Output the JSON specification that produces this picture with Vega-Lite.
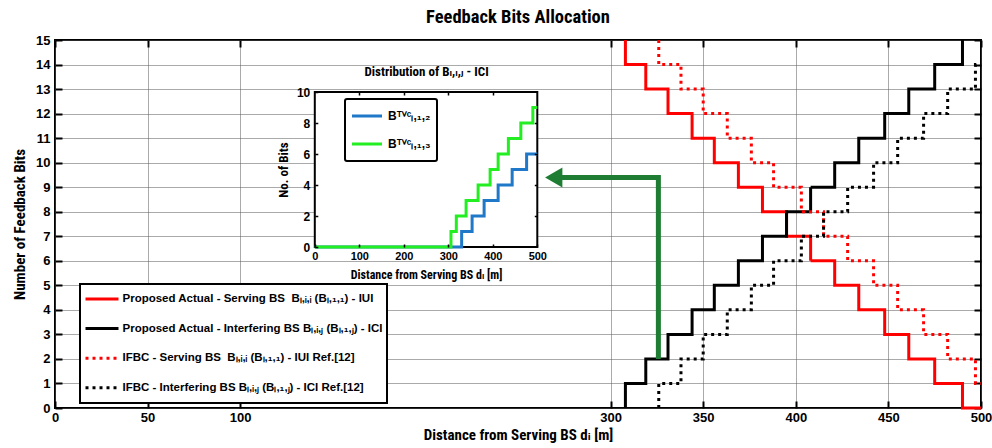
{
  "$schema": "https://vega.github.io/schema/vega-lite/v6.json",
  "width": 926,
  "height": 368,
  "autosize": {"type": "none"},
  "padding": {"left": 55, "top": 40, "right": 11, "bottom": 40},
  "background": "white",
  "title": {
    "text": "Feedback Bits Allocation",
    "font": "Noto Sans Condensed, Roboto Condensed, Liberation Sans Narrow, DejaVu Sans Condensed, Arial Narrow, Noto Sans",
    "fontSize": 18.5,
    "fontWeight": "bold",
    "color": "black",
    "anchor": "middle",
    "baseline": "alphabetic",
    "offset": -7
  },
  "config": {
    "view": {"stroke": "black", "strokeWidth": 2},
    "axis": {
      "domain": false,
      "labelFont": "Liberation Sans",
      "labelFontWeight": "bold",
      "labelColor": "black",
      "labelFlush": false,
      "labelOverlap": false,
      "tickColor": "black",
      "titleColor": "black",
      "titleFont": "Noto Sans Condensed, Roboto Condensed, Liberation Sans Narrow, DejaVu Sans Condensed, Arial Narrow, Noto Sans",
      "titleFontWeight": "bold"
    }
  },
  "datasets": {
    "feedback": [
      {"series": "Proposed Actual - Serving BS \u00a0Bₗ,ᵢ,ᵢ (Bₗ,₁,₁) - IUI", "point": 0, "distance": 308, "bits": 15},
      {"series": "Proposed Actual - Serving BS \u00a0Bₗ,ᵢ,ᵢ (Bₗ,₁,₁) - IUI", "point": 1, "distance": 308, "bits": 14},
      {"series": "Proposed Actual - Serving BS \u00a0Bₗ,ᵢ,ᵢ (Bₗ,₁,₁) - IUI", "point": 2, "distance": 319, "bits": 13},
      {"series": "Proposed Actual - Serving BS \u00a0Bₗ,ᵢ,ᵢ (Bₗ,₁,₁) - IUI", "point": 3, "distance": 331, "bits": 12},
      {"series": "Proposed Actual - Serving BS \u00a0Bₗ,ᵢ,ᵢ (Bₗ,₁,₁) - IUI", "point": 4, "distance": 344, "bits": 11},
      {"series": "Proposed Actual - Serving BS \u00a0Bₗ,ᵢ,ᵢ (Bₗ,₁,₁) - IUI", "point": 5, "distance": 356, "bits": 10},
      {"series": "Proposed Actual - Serving BS \u00a0Bₗ,ᵢ,ᵢ (Bₗ,₁,₁) - IUI", "point": 6, "distance": 369, "bits": 9},
      {"series": "Proposed Actual - Serving BS \u00a0Bₗ,ᵢ,ᵢ (Bₗ,₁,₁) - IUI", "point": 7, "distance": 382, "bits": 8},
      {"series": "Proposed Actual - Serving BS \u00a0Bₗ,ᵢ,ᵢ (Bₗ,₁,₁) - IUI", "point": 8, "distance": 395, "bits": 7},
      {"series": "Proposed Actual - Serving BS \u00a0Bₗ,ᵢ,ᵢ (Bₗ,₁,₁) - IUI", "point": 9, "distance": 408, "bits": 6},
      {"series": "Proposed Actual - Serving BS \u00a0Bₗ,ᵢ,ᵢ (Bₗ,₁,₁) - IUI", "point": 10, "distance": 421, "bits": 5},
      {"series": "Proposed Actual - Serving BS \u00a0Bₗ,ᵢ,ᵢ (Bₗ,₁,₁) - IUI", "point": 11, "distance": 434, "bits": 4},
      {"series": "Proposed Actual - Serving BS \u00a0Bₗ,ᵢ,ᵢ (Bₗ,₁,₁) - IUI", "point": 12, "distance": 448, "bits": 3},
      {"series": "Proposed Actual - Serving BS \u00a0Bₗ,ᵢ,ᵢ (Bₗ,₁,₁) - IUI", "point": 13, "distance": 461, "bits": 2},
      {"series": "Proposed Actual - Serving BS \u00a0Bₗ,ᵢ,ᵢ (Bₗ,₁,₁) - IUI", "point": 14, "distance": 475, "bits": 1},
      {"series": "Proposed Actual - Serving BS \u00a0Bₗ,ᵢ,ᵢ (Bₗ,₁,₁) - IUI", "point": 15, "distance": 490, "bits": 0},
      {"series": "Proposed Actual - Serving BS \u00a0Bₗ,ᵢ,ᵢ (Bₗ,₁,₁) - IUI", "point": 16, "distance": 500, "bits": 0},

      {"series": "Proposed Actual - Interfering BS Bₗ,ᵢ,ⱼ (Bₗ,₁,ⱼ) - ICI", "point": 0, "distance": 308, "bits": 0},
      {"series": "Proposed Actual - Interfering BS Bₗ,ᵢ,ⱼ (Bₗ,₁,ⱼ) - ICI", "point": 1, "distance": 308, "bits": 1},
      {"series": "Proposed Actual - Interfering BS Bₗ,ᵢ,ⱼ (Bₗ,₁,ⱼ) - ICI", "point": 2, "distance": 319, "bits": 2},
      {"series": "Proposed Actual - Interfering BS Bₗ,ᵢ,ⱼ (Bₗ,₁,ⱼ) - ICI", "point": 3, "distance": 331, "bits": 3},
      {"series": "Proposed Actual - Interfering BS Bₗ,ᵢ,ⱼ (Bₗ,₁,ⱼ) - ICI", "point": 4, "distance": 344, "bits": 4},
      {"series": "Proposed Actual - Interfering BS Bₗ,ᵢ,ⱼ (Bₗ,₁,ⱼ) - ICI", "point": 5, "distance": 356, "bits": 5},
      {"series": "Proposed Actual - Interfering BS Bₗ,ᵢ,ⱼ (Bₗ,₁,ⱼ) - ICI", "point": 6, "distance": 369, "bits": 6},
      {"series": "Proposed Actual - Interfering BS Bₗ,ᵢ,ⱼ (Bₗ,₁,ⱼ) - ICI", "point": 7, "distance": 382, "bits": 7},
      {"series": "Proposed Actual - Interfering BS Bₗ,ᵢ,ⱼ (Bₗ,₁,ⱼ) - ICI", "point": 8, "distance": 395, "bits": 8},
      {"series": "Proposed Actual - Interfering BS Bₗ,ᵢ,ⱼ (Bₗ,₁,ⱼ) - ICI", "point": 9, "distance": 408, "bits": 9},
      {"series": "Proposed Actual - Interfering BS Bₗ,ᵢ,ⱼ (Bₗ,₁,ⱼ) - ICI", "point": 10, "distance": 421, "bits": 10},
      {"series": "Proposed Actual - Interfering BS Bₗ,ᵢ,ⱼ (Bₗ,₁,ⱼ) - ICI", "point": 11, "distance": 434, "bits": 11},
      {"series": "Proposed Actual - Interfering BS Bₗ,ᵢ,ⱼ (Bₗ,₁,ⱼ) - ICI", "point": 12, "distance": 448, "bits": 12},
      {"series": "Proposed Actual - Interfering BS Bₗ,ᵢ,ⱼ (Bₗ,₁,ⱼ) - ICI", "point": 13, "distance": 461, "bits": 13},
      {"series": "Proposed Actual - Interfering BS Bₗ,ᵢ,ⱼ (Bₗ,₁,ⱼ) - ICI", "point": 14, "distance": 475, "bits": 14},
      {"series": "Proposed Actual - Interfering BS Bₗ,ᵢ,ⱼ (Bₗ,₁,ⱼ) - ICI", "point": 15, "distance": 490, "bits": 15},

      {"series": "IFBC - Serving BS \u00a0Bₗ,ᵢ,ᵢ (Bₗ,₁,₁) - IUI Ref.[12]", "point": 0, "distance": 326, "bits": 15},
      {"series": "IFBC - Serving BS \u00a0Bₗ,ᵢ,ᵢ (Bₗ,₁,₁) - IUI Ref.[12]", "point": 1, "distance": 326, "bits": 14},
      {"series": "IFBC - Serving BS \u00a0Bₗ,ᵢ,ᵢ (Bₗ,₁,₁) - IUI Ref.[12]", "point": 2, "distance": 338, "bits": 13},
      {"series": "IFBC - Serving BS \u00a0Bₗ,ᵢ,ᵢ (Bₗ,₁,₁) - IUI Ref.[12]", "point": 3, "distance": 350, "bits": 12},
      {"series": "IFBC - Serving BS \u00a0Bₗ,ᵢ,ᵢ (Bₗ,₁,₁) - IUI Ref.[12]", "point": 4, "distance": 363, "bits": 11},
      {"series": "IFBC - Serving BS \u00a0Bₗ,ᵢ,ᵢ (Bₗ,₁,₁) - IUI Ref.[12]", "point": 5, "distance": 376, "bits": 10},
      {"series": "IFBC - Serving BS \u00a0Bₗ,ᵢ,ᵢ (Bₗ,₁,₁) - IUI Ref.[12]", "point": 6, "distance": 388, "bits": 9},
      {"series": "IFBC - Serving BS \u00a0Bₗ,ᵢ,ᵢ (Bₗ,₁,₁) - IUI Ref.[12]", "point": 7, "distance": 403, "bits": 8},
      {"series": "IFBC - Serving BS \u00a0Bₗ,ᵢ,ᵢ (Bₗ,₁,₁) - IUI Ref.[12]", "point": 8, "distance": 415, "bits": 7},
      {"series": "IFBC - Serving BS \u00a0Bₗ,ᵢ,ᵢ (Bₗ,₁,₁) - IUI Ref.[12]", "point": 9, "distance": 428, "bits": 6},
      {"series": "IFBC - Serving BS \u00a0Bₗ,ᵢ,ᵢ (Bₗ,₁,₁) - IUI Ref.[12]", "point": 10, "distance": 442, "bits": 5},
      {"series": "IFBC - Serving BS \u00a0Bₗ,ᵢ,ᵢ (Bₗ,₁,₁) - IUI Ref.[12]", "point": 11, "distance": 455, "bits": 4},
      {"series": "IFBC - Serving BS \u00a0Bₗ,ᵢ,ᵢ (Bₗ,₁,₁) - IUI Ref.[12]", "point": 12, "distance": 469, "bits": 3},
      {"series": "IFBC - Serving BS \u00a0Bₗ,ᵢ,ᵢ (Bₗ,₁,₁) - IUI Ref.[12]", "point": 13, "distance": 482, "bits": 2},
      {"series": "IFBC - Serving BS \u00a0Bₗ,ᵢ,ᵢ (Bₗ,₁,₁) - IUI Ref.[12]", "point": 14, "distance": 497, "bits": 1},
      {"series": "IFBC - Serving BS \u00a0Bₗ,ᵢ,ᵢ (Bₗ,₁,₁) - IUI Ref.[12]", "point": 15, "distance": 500, "bits": 1},

      {"series": "IFBC - Interfering BS Bₗ,ᵢ,ⱼ (Bₗ,₁,ⱼ) - ICI Ref.[12]", "point": 0, "distance": 326, "bits": 0},
      {"series": "IFBC - Interfering BS Bₗ,ᵢ,ⱼ (Bₗ,₁,ⱼ) - ICI Ref.[12]", "point": 1, "distance": 326, "bits": 1},
      {"series": "IFBC - Interfering BS Bₗ,ᵢ,ⱼ (Bₗ,₁,ⱼ) - ICI Ref.[12]", "point": 2, "distance": 338, "bits": 2},
      {"series": "IFBC - Interfering BS Bₗ,ᵢ,ⱼ (Bₗ,₁,ⱼ) - ICI Ref.[12]", "point": 3, "distance": 350, "bits": 3},
      {"series": "IFBC - Interfering BS Bₗ,ᵢ,ⱼ (Bₗ,₁,ⱼ) - ICI Ref.[12]", "point": 4, "distance": 363, "bits": 4},
      {"series": "IFBC - Interfering BS Bₗ,ᵢ,ⱼ (Bₗ,₁,ⱼ) - ICI Ref.[12]", "point": 5, "distance": 376, "bits": 5},
      {"series": "IFBC - Interfering BS Bₗ,ᵢ,ⱼ (Bₗ,₁,ⱼ) - ICI Ref.[12]", "point": 6, "distance": 388, "bits": 6},
      {"series": "IFBC - Interfering BS Bₗ,ᵢ,ⱼ (Bₗ,₁,ⱼ) - ICI Ref.[12]", "point": 7, "distance": 403, "bits": 7},
      {"series": "IFBC - Interfering BS Bₗ,ᵢ,ⱼ (Bₗ,₁,ⱼ) - ICI Ref.[12]", "point": 8, "distance": 415, "bits": 8},
      {"series": "IFBC - Interfering BS Bₗ,ᵢ,ⱼ (Bₗ,₁,ⱼ) - ICI Ref.[12]", "point": 9, "distance": 428, "bits": 9},
      {"series": "IFBC - Interfering BS Bₗ,ᵢ,ⱼ (Bₗ,₁,ⱼ) - ICI Ref.[12]", "point": 10, "distance": 442, "bits": 10},
      {"series": "IFBC - Interfering BS Bₗ,ᵢ,ⱼ (Bₗ,₁,ⱼ) - ICI Ref.[12]", "point": 11, "distance": 455, "bits": 11},
      {"series": "IFBC - Interfering BS Bₗ,ᵢ,ⱼ (Bₗ,₁,ⱼ) - ICI Ref.[12]", "point": 12, "distance": 469, "bits": 12},
      {"series": "IFBC - Interfering BS Bₗ,ᵢ,ⱼ (Bₗ,₁,ⱼ) - ICI Ref.[12]", "point": 13, "distance": 482, "bits": 13},
      {"series": "IFBC - Interfering BS Bₗ,ᵢ,ⱼ (Bₗ,₁,ⱼ) - ICI Ref.[12]", "point": 14, "distance": 497, "bits": 14},
      {"series": "IFBC - Interfering BS Bₗ,ᵢ,ⱼ (Bₗ,₁,ⱼ) - ICI Ref.[12]", "point": 15, "distance": 500, "bits": 14}
    ],
    "arrow": [
      {"point": 0, "distance": 325.8, "bits": 2.0},
      {"point": 1, "distance": 325.8, "bits": 9.4},
      {"point": 2, "distance": 269.3, "bits": 9.4}
    ],
    "arrowhead": [
      {"distance": 269.3, "bits": 9.4}
    ],
    "tvc": [
      {"curve": "Bᵀⱽᶜₗ,₁,₂", "distance": 0, "bits": 0},
      {"curve": "Bᵀⱽᶜₗ,₁,₂", "distance": 330, "bits": 1},
      {"curve": "Bᵀⱽᶜₗ,₁,₂", "distance": 353.5, "bits": 2},
      {"curve": "Bᵀⱽᶜₗ,₁,₂", "distance": 380.5, "bits": 3},
      {"curve": "Bᵀⱽᶜₗ,₁,₂", "distance": 412, "bits": 4},
      {"curve": "Bᵀⱽᶜₗ,₁,₂", "distance": 443.5, "bits": 5},
      {"curve": "Bᵀⱽᶜₗ,₁,₂", "distance": 476, "bits": 6},
      {"curve": "Bᵀⱽᶜₗ,₁,₂", "distance": 500, "bits": 6},
      {"curve": "Bᵀⱽᶜₗ,₁,₃", "distance": 0, "bits": 0},
      {"curve": "Bᵀⱽᶜₗ,₁,₃", "distance": 306, "bits": 1},
      {"curve": "Bᵀⱽᶜₗ,₁,₃", "distance": 318, "bits": 2},
      {"curve": "Bᵀⱽᶜₗ,₁,₃", "distance": 340, "bits": 3},
      {"curve": "Bᵀⱽᶜₗ,₁,₃", "distance": 367, "bits": 4},
      {"curve": "Bᵀⱽᶜₗ,₁,₃", "distance": 394, "bits": 5},
      {"curve": "Bᵀⱽᶜₗ,₁,₃", "distance": 412, "bits": 6},
      {"curve": "Bᵀⱽᶜₗ,₁,₃", "distance": 435, "bits": 7},
      {"curve": "Bᵀⱽᶜₗ,₁,₃", "distance": 463, "bits": 8},
      {"curve": "Bᵀⱽᶜₗ,₁,₃", "distance": 490, "bits": 9},
      {"curve": "Bᵀⱽᶜₗ,₁,₃", "distance": 500, "bits": 9}
    ]
  },
  "layer": [
    {
      "layer": [
        {
          "data": {"name": "feedback"},
          "mark": {"type": "line", "interpolate": "step-after", "strokeWidth": 3, "strokeCap": "butt"},
          "encoding": {
            "x": {
              "field": "distance",
              "type": "quantitative",
              "scale": {"domain": [0, 500], "nice": false, "zero": false},
              "axis": {
                "orient": "bottom",
                "values": [0, 50, 100, 300, 350, 400, 450, 500],
                "grid": true,
                "gridColor": "#555555",
                "gridDash": [1, 1],
                "gridWidth": 1,
                "tickSize": -7,
                "tickWidth": 2,
                "labelPadding": 10,
                "labelFontSize": 13,
                "title": "Distance from Serving BS dᵢ [m]",
                "titleFontSize": 15,
                "titlePadding": 3
              }
            },
            "y": {
              "field": "bits",
              "type": "quantitative",
              "scale": {"domain": [0, 15], "nice": false, "zero": false},
              "axis": {
                "orient": "left",
                "values": [0, 1, 2, 3, 4, 5, 6, 7, 8, 9, 10, 11, 12, 13, 14, 15],
                "grid": true,
                "gridColor": "#555555",
                "gridDash": [1, 1],
                "gridWidth": 1,
                "tickSize": -7,
                "tickWidth": 2,
                "labelPadding": 12,
                "labelFontSize": 13,
                "title": "Number of Feedback Bits",
                "titleFontSize": 15,
                "titlePadding": 8
              }
            },
            "color": {
              "field": "series",
              "type": "nominal",
              "scale": {
                "domain": [
                  "Proposed Actual - Serving BS \u00a0Bₗ,ᵢ,ᵢ (Bₗ,₁,₁) - IUI",
                  "Proposed Actual - Interfering BS Bₗ,ᵢ,ⱼ (Bₗ,₁,ⱼ) - ICI",
                  "IFBC - Serving BS \u00a0Bₗ,ᵢ,ᵢ (Bₗ,₁,₁) - IUI Ref.[12]",
                  "IFBC - Interfering BS Bₗ,ᵢ,ⱼ (Bₗ,₁,ⱼ) - ICI Ref.[12]"
                ],
                "range": ["#ff0000", "#000000", "#ff0000", "#000000"]
              },
              "legend": {
                "orient": "none",
                "legendX": 25,
                "legendY": 244,
                "title": null,
                "symbolType": "stroke",
                "symbolSize": 1089,
                "symbolStrokeWidth": 3,
                "clipHeight": 22,
                "rowPadding": 7.6,
                "padding": 4,
                "labelOffset": 2.5,
                "labelFont": "Liberation Sans",
                "labelFontWeight": "bold",
                "labelFontSize": 11.5,
                "labelColor": "black",
                "labelLimit": 600,
                "fillColor": "white",
                "strokeColor": "black",
                "encode": {"legend": {"update": {"strokeWidth": {"value": 2}}}}
              }
            },
            "strokeDash": {
              "field": "series",
              "type": "nominal",
              "scale": {
                "domain": [
                  "Proposed Actual - Serving BS \u00a0Bₗ,ᵢ,ᵢ (Bₗ,₁,₁) - IUI",
                  "Proposed Actual - Interfering BS Bₗ,ᵢ,ⱼ (Bₗ,₁,ⱼ) - ICI",
                  "IFBC - Serving BS \u00a0Bₗ,ᵢ,ᵢ (Bₗ,₁,₁) - IUI Ref.[12]",
                  "IFBC - Interfering BS Bₗ,ᵢ,ⱼ (Bₗ,₁,ⱼ) - ICI Ref.[12]"
                ],
                "range": [[1, 0], [1, 0], [3, 4], [3, 4]]
              },
              "legend": {
                "orient": "none",
                "legendX": 25,
                "legendY": 244,
                "title": null,
                "symbolType": "stroke",
                "symbolSize": 1089,
                "symbolStrokeWidth": 3,
                "clipHeight": 22,
                "rowPadding": 7.6,
                "padding": 4,
                "labelOffset": 2.5,
                "labelFont": "Liberation Sans",
                "labelFontWeight": "bold",
                "labelFontSize": 11.5,
                "labelColor": "black",
                "labelLimit": 600,
                "fillColor": "white",
                "strokeColor": "black",
                "encode": {"legend": {"update": {"strokeWidth": {"value": 2}}}}
              }
            },
            "order": {"field": "point", "type": "quantitative"}
          }
        },
        {
          "data": {"name": "arrow"},
          "mark": {"type": "line", "color": "#1e7d32", "strokeWidth": 5, "strokeCap": "butt", "strokeJoin": "miter"},
          "encoding": {
            "x": {
              "field": "distance",
              "type": "quantitative",
              "axis": {
                "orient": "top",
                "values": [0, 50, 100, 300, 350, 400, 450, 500],
                "labels": false,
                "grid": false,
                "tickSize": -7,
                "tickWidth": 2,
                "title": null
              }
            },
            "y": {
              "field": "bits",
              "type": "quantitative",
              "axis": {
                "orient": "right",
                "values": [0, 1, 2, 3, 4, 5, 6, 7, 8, 9, 10, 11, 12, 13, 14, 15],
                "labels": false,
                "grid": false,
                "tickSize": -7,
                "tickWidth": 2,
                "title": null
              }
            },
            "order": {"field": "point", "type": "quantitative"}
          }
        },
        {
          "data": {"name": "arrowhead"},
          "mark": {"type": "point", "shape": "triangle-left", "size": 400, "filled": true, "color": "#1e7d32", "opacity": 1},
          "encoding": {
            "x": {"field": "distance", "type": "quantitative", "axis": null},
            "y": {"field": "bits", "type": "quantitative", "axis": null}
          }
        }
      ],
      "resolve": {"axis": {"x": "independent", "y": "independent"}}
    },
    {
      "layer": [
        {
          "data": {"values": [{}]},
          "mark": {"type": "rect", "fill": "white", "stroke": "black", "strokeWidth": 2},
          "encoding": {
            "x": {
              "datum": 0,
              "type": "quantitative",
              "scale": {"domain": [0, 500], "range": [259.8, 482.3], "nice": false, "zero": false},
              "axis": {
                "orient": "bottom",
                "offset": -161,
                "zindex": 1,
                "values": [0, 100, 200, 300, 400, 500],
                "grid": false,
                "tickSize": -3,
                "tickWidth": 1.5,
                "labelPadding": 6,
                "labelFontSize": 11,
                "title": "Distance from Serving BS dᵢ [m]",
                "titleFontSize": 12,
                "titlePadding": 8
              }
            },
            "x2": {"datum": 500},
            "y": {
              "datum": 0,
              "type": "quantitative",
              "scale": {"domain": [0, 10], "range": [207, 52], "nice": false, "zero": false},
              "axis": {
                "orient": "left",
                "offset": -259.8,
                "zindex": 1,
                "values": [0, 2, 4, 6, 8, 10],
                "grid": false,
                "tickSize": -3,
                "tickWidth": 1.5,
                "labelPadding": 8,
                "labelFontSize": 12,
                "title": "No. of Bits",
                "titleFontSize": 13,
                "titlePadding": 6
              }
            },
            "y2": {"datum": 10}
          }
        },
        {
          "data": {"name": "tvc"},
          "mark": {"type": "line", "interpolate": "step-after", "strokeWidth": 3},
          "encoding": {
            "x": {
              "field": "distance",
              "type": "quantitative",
              "scale": {"domain": [0, 500], "range": [259.8, 482.3], "nice": false, "zero": false},
              "axis": {
                "orient": "top",
                "offset": -52,
                "zindex": 1,
                "values": [100, 200, 300, 400],
                "labels": false,
                "grid": false,
                "tickSize": -3,
                "tickWidth": 1.5,
                "title": "Distribution of Bₗ,ᵢ,ⱼ - ICI",
                "titleFontSize": 13,
                "titlePadding": 13
              }
            },
            "y": {
              "field": "bits",
              "type": "quantitative",
              "scale": {"domain": [0, 10], "range": [207, 52], "nice": false, "zero": false},
              "axis": {
                "orient": "right",
                "offset": -443.7,
                "zindex": 1,
                "values": [2, 4, 6, 8],
                "labels": false,
                "grid": false,
                "tickSize": -3,
                "tickWidth": 1.5,
                "title": null
              }
            },
            "color": {
              "field": "curve",
              "type": "nominal",
              "scale": {"domain": ["Bᵀⱽᶜₗ,₁,₂", "Bᵀⱽᶜₗ,₁,₃"], "range": ["#1f78c8", "#22ee22"]},
              "legend": {
                "orient": "none",
                "legendX": 290,
                "legendY": 59,
                "title": null,
                "symbolType": "stroke",
                "symbolSize": 900,
                "symbolStrokeWidth": 3,
                "clipHeight": 23,
                "rowPadding": 5,
                "padding": 5.5,
                "labelOffset": 4.5,
                "labelFont": "Liberation Sans",
                "labelFontWeight": "bold",
                "labelFontSize": 12,
                "labelColor": "black",
                "labelLimit": 200,
                "fillColor": "white",
                "strokeColor": "black",
                "cornerRadius": 2,
                "encode": {"legend": {"update": {"strokeWidth": {"value": 2}}}}
              }
            }
          }
        }
      ],
      "resolve": {"axis": {"x": "independent", "y": "independent"}}
    }
  ],
  "resolve": {"scale": {"x": "independent", "y": "independent", "color": "independent", "strokeDash": "independent"}}
}
